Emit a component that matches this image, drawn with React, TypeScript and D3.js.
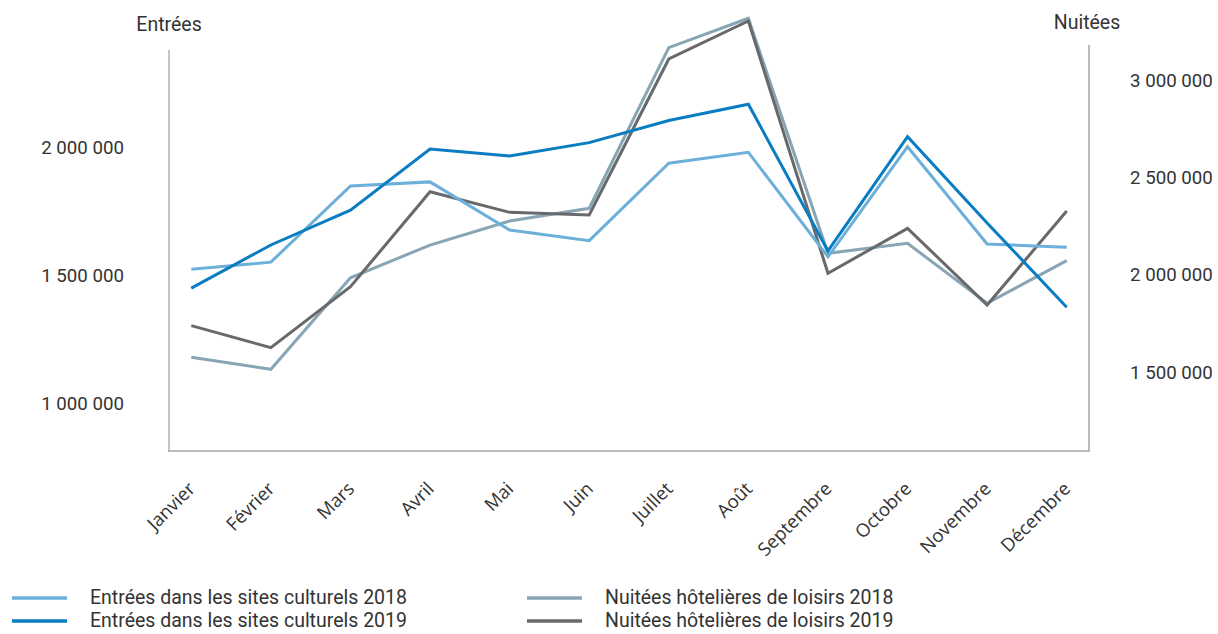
import type React from "react"
import { useEffect, useRef } from "react"
import * as d3 from "d3"

const months = [
  "Janvier",
  "Février",
  "Mars",
  "Avril",
  "Mai",
  "Juin",
  "Juillet",
  "Août",
  "Septembre",
  "Octobre",
  "Novembre",
  "Décembre",
]

// Entrées dans les sites culturels (left axis)
const entrees2018 = [1523000, 1551000, 1848000, 1864000, 1676000, 1635000, 1937000, 1979000, 1572000, 2001000, 1622000, 1609000]
const entrees2019 = [1450000, 1618000, 1754000, 1992000, 1965000, 2017000, 2103000, 2167000, 1595000, 2040000, 1704000, 1375000]

// Nuitées hôtelières de loisirs (right axis)
const nuitees2018 = [1576000, 1514000, 1984000, 2152000, 2276000, 2341000, 3166000, 3317000, 2110000, 2161000, 1853000, 2072000]
const nuitees2019 = [1738000, 1625000, 1938000, 2426000, 2320000, 2307000, 3108000, 3303000, 2007000, 2238000, 1844000, 2327000]

const leftTicks = [1000000, 1500000, 2000000]
const rightTicks = [1500000, 2000000, 2500000, 3000000]

const fmt = (v: number) => d3.format(",")(v).replace(/,/g, " ")

const App: React.FC = () => {
  const svgRef = useRef<SVGSVGElement | null>(null)

  useEffect(() => {
    const width = 1218
    const height = 634
    const svg = d3.select(svgRef.current).attr("width", width).attr("height", height)
    svg.selectAll("*").remove()

    const left = 169
    const right = 1089
    const bottom = 451

    const x = d3.scalePoint<string>().domain(months).range([left, right]).padding(0.28)
    const yL = d3.scaleLinear().domain([1000000, 2000000]).range([403.5, 147])
    const yR = d3.scaleLinear().domain([1500000, 3000000]).range([372, 80])

    const font = "Roboto, 'Noto Sans', sans-serif"

    // frame lines
    svg.append("line").attr("x1", left).attr("x2", left).attr("y1", 50).attr("y2", bottom)
      .attr("stroke", "#c4c4c4").attr("stroke-width", 2)
    svg.append("line").attr("x1", right).attr("x2", right).attr("y1", 45).attr("y2", bottom)
      .attr("stroke", "#a6a6a6").attr("stroke-width", 1.5)
    svg.append("line").attr("x1", left - 1).attr("x2", right + 0.75).attr("y1", bottom).attr("y2", bottom)
      .attr("stroke", "#a6a6a6").attr("stroke-width", 1.5)

    // axis titles
    svg.append("text").attr("x", 169).attr("y", 31).attr("text-anchor", "middle")
      .attr("font-family", font).attr("font-size", 19.5).attr("fill", "#333").text("Entrées")
    svg.append("text").attr("x", 1087).attr("y", 29).attr("text-anchor", "middle")
      .attr("font-family", font).attr("font-size", 19.5).attr("fill", "#333").text("Nuitées")

    // left ticks
    svg.append("g").selectAll("text").data(leftTicks).enter().append("text")
      .attr("x", 124).attr("y", (d) => yL(d)).attr("dy", "0.36em").attr("text-anchor", "end")
      .attr("font-family", font).attr("font-size", 18.7).attr("fill", "#333").text((d) => fmt(d))

    // right ticks
    svg.append("g").selectAll("text").data(rightTicks).enter().append("text")
      .attr("x", 1130).attr("y", (d) => yR(d)).attr("dy", "0.36em").attr("text-anchor", "start")
      .attr("font-family", font).attr("font-size", 18.7).attr("fill", "#333").text((d) => fmt(d))

    // month labels
    svg.append("g").selectAll("text").data(months).enter().append("text")
      .attr("transform", (d) => `translate(${(x(d) ?? 0) + 5},${490}) rotate(-45)`)
      .attr("text-anchor", "end")
      .attr("font-family", "'Open Sans', sans-serif").attr("font-size", 18.5).attr("fill", "#333")
      .text((d) => d)

    const series = [
      { name: "Nuitées hôtelières de loisirs 2018", values: nuitees2018, y: yR, color: "#88a5b5" },
      { name: "Nuitées hôtelières de loisirs 2019", values: nuitees2019, y: yR, color: "#69696b" },
      { name: "Entrées dans les sites culturels 2018", values: entrees2018, y: yL, color: "#6cb0da" },
      { name: "Entrées dans les sites culturels 2019", values: entrees2019, y: yL, color: "#0a7cc2" },
    ]

    series.forEach((s) => {
      const line = d3.line<number>()
        .x((_, i) => x(months[i]) ?? 0)
        .y((v) => s.y(v))
      svg.append("path").datum(s.values).attr("fill", "none").attr("stroke", s.color)
        .attr("stroke-width", 3).attr("stroke-linejoin", "miter").attr("d", line)
    })

    // legend
    const legend = [
      { name: "Entrées dans les sites culturels 2018", color: "#6cb0da", lx: 12, ly: 598 },
      { name: "Entrées dans les sites culturels 2019", color: "#0a7cc2", lx: 12, ly: 621 },
      { name: "Nuitées hôtelières de loisirs 2018", color: "#88a5b5", lx: 527, ly: 598 },
      { name: "Nuitées hôtelières de loisirs 2019", color: "#69696b", lx: 527, ly: 621 },
    ]
    const lg = svg.append("g").selectAll("g").data(legend).enter().append("g")
    lg.append("line").attr("x1", (d) => d.lx).attr("x2", (d) => d.lx + 55)
      .attr("y1", (d) => d.ly).attr("y2", (d) => d.ly)
      .attr("stroke", (d) => d.color).attr("stroke-width", 3.5)
    lg.append("text").attr("x", (d) => d.lx + 78).attr("y", (d) => d.ly).attr("dy", "0.32em")
      .attr("font-family", font).attr("font-size", 19.5).attr("fill", "#333").text((d) => d.name)
  }, [])

  return (
    <div style={{ position: "absolute", left: 0, top: 0 }}>
      <svg ref={svgRef}></svg>
    </div>
  )
}

export default App
